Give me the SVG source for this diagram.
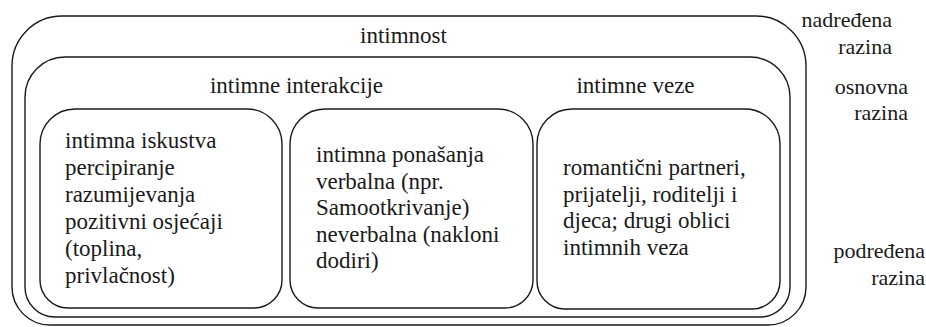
<svg xmlns="http://www.w3.org/2000/svg" width="926" height="327" viewBox="0 0 926 327">
<style>
.box{fill:none;stroke:#1a1a1a;stroke-width:1.4}
text{font-family:'Liberation Serif','Times New Roman',Times,serif;font-size:23px;fill:#1a1a1a}
.side{font-size:22px}
.r{text-anchor:end}
.c{text-anchor:middle}
</style>
<rect width="926" height="327" fill="#fff"/>
<g id="intimnost">
<path class="box" d="M62,16 H756 A50,50 0 0 1 806,66 V287 A38,38 0 0 1 768,325 H50 A38,38 0 0 1 12,287 V66 A50,50 0 0 1 62,16 Z"/>
<text class="c" x="403.5" y="43">intimnost</text>
</g>
<g id="osnovna">
<path class="box" d="M65,57 H750 A40,40 0 0 1 790,97 V287 A30,30 0 0 1 760,317 H55 A30,30 0 0 1 25,287 V97 A40,40 0 0 1 65,57 Z"/>
<text class="c" x="296.5" y="93">intimne interakcije</text>
<text class="c" x="635.5" y="93">intimne veze</text>
</g>
<g id="iskustva">
<path class="box" d="M75,109 H247 A35,35 0 0 1 282,144 V280 A28,28 0 0 1 254,308 H68 A28,28 0 0 1 40,280 V144 A35,35 0 0 1 75,109 Z"/>
<text x="65" y="148">intimna iskustva</text>
<text x="65" y="175">percipiranje</text>
<text x="65" y="202">razumijevanja</text>
<text x="65" y="229">pozitivni osjećaji</text>
<text x="65" y="256">(toplina,</text>
<text x="65" y="283">privlačnost)</text>
</g>
<g id="ponasanja">
<path class="box" d="M325,109 H498 A35,35 0 0 1 533,144 V280 A28,28 0 0 1 505,308 H318 A28,28 0 0 1 290,280 V144 A35,35 0 0 1 325,109 Z"/>
<text x="316" y="162">intimna ponašanja</text>
<text x="316" y="188.5">verbalna (npr.</text>
<text x="316" y="215">Samootkrivanje)</text>
<text x="316" y="241.5">neverbalna (nakloni</text>
<text x="316" y="268">dodiri)</text>
</g>
<g id="veze">
<path class="box" d="M572,109 H745 A35,35 0 0 1 780,144 V281 A28,28 0 0 1 752,309 H565 A28,28 0 0 1 537,281 V144 A35,35 0 0 1 572,109 Z"/>
<text x="563" y="175">romantični partneri,</text>
<text x="563" y="201.5">prijatelji, roditelji i</text>
<text x="563" y="228">djeca; drugi oblici</text>
<text x="563" y="254.5">intimnih veza</text>
</g>
<g id="razine">
<text class="side r" x="892" y="27">nadređena</text>
<text class="side r" x="892" y="54">razina</text>
<text class="side r" x="908" y="94">osnovna</text>
<text class="side r" x="908" y="120">razina</text>
<text class="side r" x="925" y="258">podređena</text>
<text class="side r" x="925" y="285">razina</text>
</g>
<g id="connectors"/>
</svg>
